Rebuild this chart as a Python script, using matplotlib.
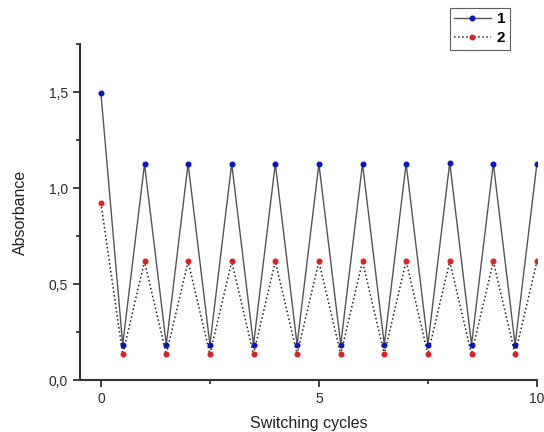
import numpy as np
import matplotlib
matplotlib.use("Agg")
import matplotlib.pyplot as plt
from matplotlib.ticker import MultipleLocator, FuncFormatter

plt.rcParams["font.family"] = ["Liberation Sans", "DejaVu Sans"]

# data
cycles = [0, 0.5, 1, 1.5, 2, 2.5, 3, 3.5, 4, 4.5, 5,
          5.5, 6, 6.5, 7, 7.5, 8, 8.5, 9, 9.5, 10]
series1 = [1.495, 0.185, 1.125, 0.185, 1.127, 0.185, 1.127, 0.185, 1.127, 0.185, 1.127,
           0.185, 1.127, 0.185, 1.128, 0.185, 1.133, 0.185, 1.128, 0.185, 1.128]
series2 = [0.923, 0.135, 0.618, 0.135, 0.618, 0.135, 0.618, 0.135, 0.618, 0.135, 0.618,
           0.135, 0.618, 0.135, 0.62, 0.135, 0.618, 0.135, 0.618, 0.135, 0.618]
labels = ["1", "2"]

fig = plt.figure(figsize=(5.44, 4.32), dpi=100)
ax = fig.add_axes([0.147, 0.120, 0.840, 0.778])

ax.plot(cycles, series1, "-", color="#555555", lw=1.0,
        marker="o", ms=3.3, mfc="#0a14c8", mec="#0a14c8", label=labels[0])
ax.plot(cycles, series2, ":", color="#222222", lw=1.1,
        marker="o", ms=3.3, mfc="#e02020", mec="#e02020", label=labels[1])

ax.set_xlim(-0.48, 10)
ax.set_ylim(0, 1.75)
ax.xaxis.set_major_locator(MultipleLocator(5))
ax.xaxis.set_minor_locator(MultipleLocator(2.5))
ax.yaxis.set_major_locator(MultipleLocator(0.5))
ax.yaxis.set_minor_locator(MultipleLocator(0.25))
ax.yaxis.set_major_formatter(FuncFormatter(lambda v, p: f"{v:.1f}".replace(".", ",")))

for s in ["top", "right"]:
    ax.spines[s].set_visible(False)
for s in ["left", "bottom"]:
    ax.spines[s].set_linewidth(1.5)
    ax.spines[s].set_color("#333333")

ax.tick_params(which="major", direction="out", length=5, width=1.3, color="#333333",
               labelsize=10, labelcolor="#2a2a2a")
ax.tick_params(which="minor", direction="out", length=3, width=1.3, color="#333333")

ax.set_xlabel("Switching cycles", fontsize=11.5, color="#222222", labelpad=7)
ax.set_ylabel("Absorbance", fontsize=11.5, color="#222222", labelpad=15)

leg = fig.legend(loc="upper right", bbox_to_anchor=(0.9375, 0.982),
                 prop={"weight": "bold", "size": 11}, fancybox=False,
                 edgecolor="#333333", handlelength=2.4, handletextpad=0.4,
                 borderpad=0.3, labelspacing=0.3, borderaxespad=0)
leg.get_frame().set_linewidth(0.8)

fig.savefig("out.png", dpi=100)
